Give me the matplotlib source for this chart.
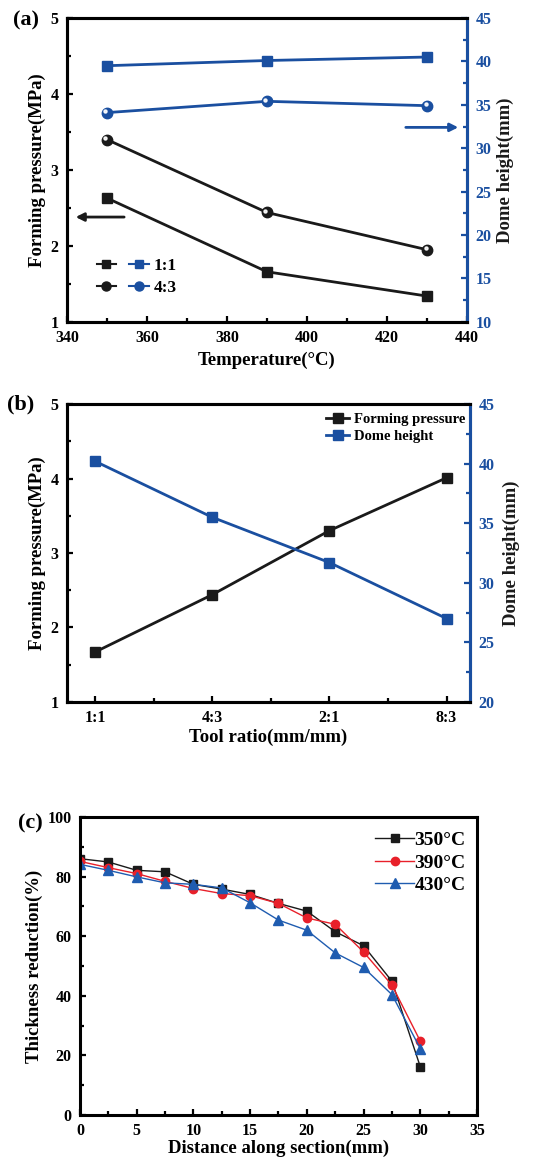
import numpy as np
import matplotlib.pyplot as plt
from matplotlib.ticker import MultipleLocator
from matplotlib.transforms import ScaledTranslation
from matplotlib.lines import Line2D
from matplotlib.legend_handler import HandlerTuple

plt.rcParams['font.family'] = ['Liberation Serif', 'DejaVu Serif']
plt.rcParams['font.weight'] = 'bold'
plt.rcParams['axes.labelweight'] = 'bold'

# (a) temperature vs pressure / dome height
temps = [350, 390, 430]
press_11 = [2.63, 1.66, 1.34]
press_43 = [3.40, 2.44, 1.95]
dome_11 = [39.5, 40.1, 40.5]
dome_43 = [34.1, 35.4, 34.9]

# (b) tool ratio
ratios = ['1:1', '4:3', '2:1', '8:3']
press_ratio = [1.67, 2.44, 3.30, 4.01]
dome_ratio = [40.2, 35.5, 31.7, 27.0]

# (c) thickness reduction
dist = [0, 2.5, 5, 7.5, 10, 12.5, 15, 17.5, 20, 22.5, 25, 27.5, 30]
red_350 = [86.0, 84.9, 82.1, 81.6, 77.4, 75.8, 74.0, 71.0, 68.4, 61.5, 56.8, 44.9, 16.2]
red_390 = [85.1, 83.0, 81.0, 78.4, 76.0, 74.3, 73.6, 71.0, 66.1, 64.0, 54.7, 43.6, 24.8]
red_430 = [84.1, 82.1, 79.9, 77.9, 77.4, 76.2, 71.2, 65.4, 62.0, 54.4, 49.5, 40.4, 22.3]

BLUE = '#1a4fa0'
BLACK = '#1a1a1a'
RED = '#e8202a'
BLUE_C = '#1f5cb0'

fig = plt.figure(figsize=(5.35, 11.58), dpi=100)


def style_axis(ax, lw=2.2):
    for s in ax.spines.values():
        s.set_linewidth(lw)
    ax.tick_params(which='both', direction='in', top=False, right=False,
                   labelsize=11.5, width=1.6, pad=6)
    ax.tick_params(which='major', length=4.5)
    ax.tick_params(which='minor', length=3)


def sphere(ax, x, y, color, size=7.5):
    ax.plot(x, y, 'o', color=color, markersize=size, zorder=4)
    off = ScaledTranslation(-1.1 / 72, 1.1 / 72, fig.dpi_scale_trans)
    ax.plot(x, y, 'o', color='white', markersize=2.2, alpha=0.9,
            transform=ax.transData + off, zorder=5)


# ---------------- (a) ----------------
ax1 = fig.add_axes([0.125, 0.722, 0.748, 0.2625])
ax1r = ax1.twinx()
ax1.plot(temps, press_11, '-', color=BLACK, lw=2)
ax1.plot(temps, press_11, 's', color=BLACK, markersize=6.5, zorder=4)
ax1.plot(temps, press_43, '-', color=BLACK, lw=2)
sphere(ax1, temps, press_43, BLACK)
ax1r.plot(temps, dome_11, '-', color=BLUE, lw=2)
ax1r.plot(temps, dome_11, 's', color=BLUE, markersize=6.5, zorder=4)
ax1r.plot(temps, dome_43, '-', color=BLUE, lw=2)
sphere(ax1r, temps, dome_43, BLUE)

ax1.set_xlim(340, 440)
ax1.set_ylim(1, 5)
ax1r.set_ylim(10, 45)
ax1.xaxis.set_major_locator(MultipleLocator(20))
ax1.xaxis.set_minor_locator(MultipleLocator(10))
ax1.yaxis.set_major_locator(MultipleLocator(1))
ax1.yaxis.set_minor_locator(MultipleLocator(0.5))
ax1r.yaxis.set_major_locator(MultipleLocator(5))
ax1r.yaxis.set_minor_locator(MultipleLocator(2.5))
style_axis(ax1)
style_axis(ax1r)
ax1r.tick_params(which='both', direction='in', right=True, left=False,
                 labelright=True, labelleft=False, colors=BLUE)
ax1r.spines['right'].set_color(BLUE)
ax1.set_xlabel('Temperature(°C)', fontsize=13.5, labelpad=4)
ax1.set_ylabel('Forming pressure(MPa)', fontsize=13.5, labelpad=3)
ax1r.set_ylabel('Dome height(mm)', fontsize=13.5, labelpad=4, color=BLACK)
ax1.annotate('', xy=(341.5, 2.38), xytext=(355, 2.38),
             arrowprops=dict(arrowstyle='-|>', color=BLACK, lw=2, mutation_scale=12))
ax1.annotate('', xy=(438.5, 3.56), xytext=(424, 3.56),
             arrowprops=dict(arrowstyle='-|>', color=BLUE, lw=2, mutation_scale=12))

h_b11 = Line2D([], [], color=BLACK, marker='s', markersize=6, lw=1.5)
h_u11 = Line2D([], [], color=BLUE, marker='s', markersize=6, lw=1.5)
h_b43 = Line2D([], [], color=BLACK, marker='o', markersize=6.5, lw=1.5)
h_u43 = Line2D([], [], color=BLUE, marker='o', markersize=6.5, lw=1.5)
ax1.legend([(h_b11, h_u11), (h_b43, h_u43)], ['1:1', '4:3'],
           handler_map={tuple: HandlerTuple(ndivide=None, pad=0.8)},
           loc='lower left', bbox_to_anchor=(0.035, 0.035), frameon=False,
           fontsize=12.5, handlelength=3.0, handletextpad=0.3, labelspacing=0.3)
fig.text(0.024, 0.982, '(a)', fontsize=16, va='center')

# ---------------- (b) ----------------
ax2 = fig.add_axes([0.125, 0.3938, 0.7535, 0.2573])
ax2r = ax2.twinx()
xpos = np.arange(len(ratios))
l1, = ax2.plot(xpos, press_ratio, '-s', color=BLACK, lw=2, markersize=6.5,
               label='Forming pressure')
l2, = ax2r.plot(xpos, dome_ratio, '-s', color=BLUE, lw=2, markersize=6.5,
                label='Dome height')
ax2.set_xlim(-0.24, 3.2)
ax2.set_ylim(1, 5)
ax2r.set_ylim(20, 45)
ax2.set_xticks(xpos)
ax2.set_xticklabels(ratios)
ax2.xaxis.set_minor_locator(MultipleLocator(0.5))
ax2.yaxis.set_major_locator(MultipleLocator(1))
ax2.yaxis.set_minor_locator(MultipleLocator(0.5))
ax2r.yaxis.set_major_locator(MultipleLocator(5))
ax2r.yaxis.set_minor_locator(MultipleLocator(2.5))
style_axis(ax2)
style_axis(ax2r)
ax2r.tick_params(which='both', direction='in', right=True, left=False,
                 labelright=True, labelleft=False, colors=BLUE)
ax2r.spines['right'].set_color(BLUE)
ax2.set_xlabel('Tool ratio(mm/mm)', fontsize=13.5, labelpad=2)
ax2.set_ylabel('Forming pressure(MPa)', fontsize=13.5, labelpad=3)
ax2r.set_ylabel('Dome height(mm)', fontsize=13.5, labelpad=6, color=BLACK)
ax2r.legend([l1, l2], ['Forming pressure', 'Dome height'], loc='upper right',
            bbox_to_anchor=(1.02, 1.015), frameon=False, fontsize=10.5,
            handlelength=1.6, handletextpad=0.3, labelspacing=0.3)
fig.text(0.014, 0.651, '(b)', fontsize=16, va='center')

# ---------------- (c) ----------------
ax3 = fig.add_axes([0.1495, 0.0371, 0.7421, 0.2574])
ax3.plot(dist, red_350, '-s', color=BLACK, lw=1, markersize=5.5, label='350°C')
ax3.plot(dist, red_390, '-o', color=RED, lw=1, markersize=6, label='390°C')
ax3.plot(dist, red_430, '-^', color=BLUE_C, lw=1, markersize=6.5, label='430°C')
ax3.set_xlim(0, 35)
ax3.set_ylim(0, 100)
ax3.xaxis.set_major_locator(MultipleLocator(5))
ax3.xaxis.set_minor_locator(MultipleLocator(2.5))
ax3.yaxis.set_major_locator(MultipleLocator(20))
ax3.yaxis.set_minor_locator(MultipleLocator(10))
style_axis(ax3)
ax3.set_xlabel('Distance along section(mm)', fontsize=13.5, labelpad=0)
ax3.set_ylabel('Thickness reduction(%)', fontsize=13.5, labelpad=3)
ax3.legend(loc='upper right', bbox_to_anchor=(1.015, 1.01), frameon=False,
           fontsize=14, handlelength=2.0, handletextpad=0.0, labelspacing=0.25)
fig.text(0.033, 0.289, '(c)', fontsize=16, va='center')

fig.savefig('out.png', dpi=100)
